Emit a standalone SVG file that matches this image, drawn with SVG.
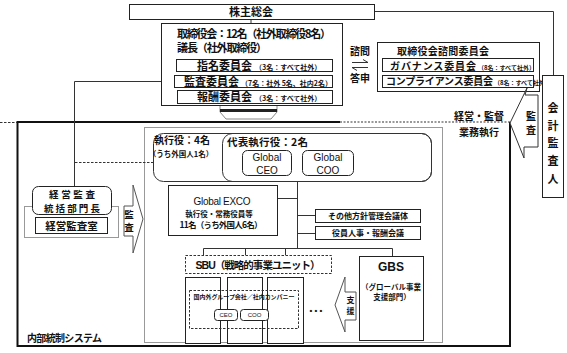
<svg xmlns="http://www.w3.org/2000/svg" width="567" height="353" viewBox="0 0 567 353">
<style>
text{font-family:'Noto Sans CJK JP',sans-serif;font-weight:bold;fill:#111}
.l{font-family:'Liberation Sans','Noto Sans CJK JP',sans-serif}
.n{font-weight:normal}
.c{text-anchor:middle}
.box{fill:#fff;stroke:#222;stroke-width:1}
.gb{fill:none;stroke:#999;stroke-width:1}
.ln{fill:none;stroke:#333;stroke-width:1}
.dash{fill:none;stroke:#333;stroke-width:1;stroke-dasharray:2.5 1.5}
</style>
<rect width="567" height="353" fill="#fff"/>

<!-- panels -->
<g id="exec-panel"><rect x="144.5" y="127.5" width="298" height="215" class="gb" stroke="#aaa"/></g>
<g id="internal-control">
<path d="M340,122 H17.5 V346 H510 V122" fill="none" stroke="#111" stroke-width="2"/>
<path d="M340,122 H510" fill="none" stroke="#333" stroke-width="1.2" stroke-dasharray="2 1.5"/>
<text x="27" y="342" font-size="10" textLength="75">内部統制システム</text>
</g>

<g id="connectors">
<path class="ln" d="M374,11.5 H553.5 V75"/>
<path class="ln" d="M251,19 V23"/>
<path class="ln" d="M174,81.5 H74.5 V186"/>
<path class="dash" d="M75,162.5 H153"/>
<path class="dash" d="M0,122.5 H17"/>
<path class="ln" d="M297.5,181 V248.5"/>
<path class="ln" d="M277,198.5 H297.5"/>
<path class="ln" d="M297.5,215.5 H315"/>
<path class="ln" d="M297.5,233.5 H315"/>
<path class="ln" d="M203.5,248.5 H392.5"/>
<path class="ln" d="M203.5,248.5 V255 M245.5,248.5 V255 M285.5,248.5 V255 M392.5,248.5 V256"/>
</g>

<g id="shareholders">
<rect x="129.5" y="4.5" width="245" height="15" class="box" stroke="#555"/>
<text x="251" y="16" font-size="11" class="c">株主総会</text>
</g>

<g id="board">
<rect x="161.5" y="23.5" width="181" height="82" class="box" stroke="#444"/>
<text x="177" y="37.5" font-size="11" textLength="154">取締役会：12名（社外取締役8名）</text>
<text x="177" y="52" font-size="11" textLength="90">議長（社外取締役）</text>
</g>
<g id="nomination">
<rect x="176.5" y="59.5" width="156" height="12" class="box"/>
<text x="197" y="69.5" font-size="11">指名委員会<tspan font-size="7" dx="3">（3名：すべて社外）</tspan></text>
</g>
<g id="audit-committee">
<rect x="174.5" y="75.5" width="158" height="12" class="box"/>
<text x="184" y="85.5" font-size="11">監査委員会<tspan font-size="7" dx="2">（7名：社外 5名、社内2名）</tspan></text>
</g>
<g id="compensation">
<rect x="177.5" y="90.5" width="155" height="13" class="box"/>
<text x="197" y="101" font-size="11">報酬委員会<tspan font-size="7" dx="3">（3名：すべて社外）</tspan></text>
</g>

<g id="down-arrow">
<path d="M220,106 V112 L226,119 H271 L277,112 V106" fill="#fff" stroke="#888" stroke-width="1"/>
<rect x="220" y="109" width="57" height="3" fill="#222"/>
</g>

<g id="advise">
<text x="360" y="55" font-size="10" class="c">諮問</text>
<path class="ln" d="M352,62.5 H368 L363,59.5 M368,67.5 H352 L357,70.5"/>
<text x="360" y="82" font-size="10" class="c">答申</text>
</g>

<g id="advisory">
<rect x="377.5" y="42.5" width="162" height="49" class="box" stroke="#555"/>
<text x="397" y="54.5" font-size="10" textLength="92">取締役会諮問委員会</text>
</g>
<g id="governance">
<rect x="382.5" y="58.5" width="151" height="13" class="box"/>
<text x="390" y="69.5" font-size="10" textLength="86">ガバナンス委員会</text>
<text x="478" y="69.5" font-size="6">（8名：すべて社外）</text>
</g>
<g id="compliance">
<rect x="382.5" y="75.5" width="151" height="12" class="box"/>
<text x="386" y="85" font-size="10" textLength="107">コンプライアンス委員会</text>
<text x="494" y="85" font-size="6">（8名：すべて社外）</text>
</g>

<g id="auditor">
<rect x="542.5" y="75.5" width="21" height="122" class="box"/>
<text x="553" y="112" font-size="11" class="c">会</text>
<text x="553" y="130" font-size="11" class="c">計</text>
<text x="553" y="147" font-size="11" class="c">監</text>
<text x="553" y="165" font-size="11" class="c">査</text>
<text x="553" y="183" font-size="11" class="c">人</text>
</g>

<g id="audit-right">
<polygon points="538,95 538,147 524,147 524,158 510,123 527,88 525,95" fill="#fff" stroke="#333" stroke-width="1"/>
<text x="531" y="120" font-size="10" class="c">監</text>
<text x="531" y="134" font-size="10" class="c">査</text>
</g>

<g id="supervision-label">
<text x="479" y="120" font-size="10" class="c">経営・監督</text>
<text x="479" y="136" font-size="10" class="c">業務執行</text>
</g>

<g id="executives">
<rect x="153.5" y="133.5" width="278" height="48" rx="10" fill="#fff" stroke="#333"/>
<rect x="222.5" y="133.5" width="209" height="48" rx="10" fill="none" stroke="#333"/>
<text x="182" y="144" font-size="10" class="c">執行役：4名</text>
<text x="181" y="157" font-size="7.5" class="c">（うち外国人1名）</text>
<text x="227" y="146" font-size="10.5" textLength="81">代表執行役：2名</text>
</g>
<g id="global-ceo">
<rect x="242.5" y="150.5" width="49" height="25" rx="5" class="box"/>
<text x="267" y="161" font-size="10" class="c l n">Global</text>
<text x="267" y="174" font-size="10" class="c l n">CEO</text>
</g>
<g id="global-coo">
<rect x="302.5" y="150.5" width="51" height="25" rx="5" class="box"/>
<text x="328" y="161" font-size="10" class="c l n">Global</text>
<text x="328" y="174" font-size="10" class="c l n">COO</text>
</g>

<g id="mgmt-audit">
<rect x="24.5" y="206.5" width="94" height="31" class="gb" stroke="#aaa"/>
<rect x="32.5" y="186.5" width="79" height="28" rx="6" class="box" stroke="#444"/>
<text x="72" y="198" font-size="9.5" class="c" textLength="46">経営監査</text>
<text x="72" y="212" font-size="9.5" class="c" textLength="56">統括部門長</text>
</g>
<g id="mgmt-audit-office">
<rect x="35.5" y="217.5" width="72" height="16" class="box" stroke="#444"/>
<text x="71.5" y="229.5" font-size="10.5" class="c">経営監査室</text>
</g>

<g id="audit-left">
<polygon points="124,206 133,206 133,185 143,219 133,253 133,236 124,236" fill="#fff" stroke="#555" stroke-width="1"/>
<text x="129" y="218" font-size="9.5" class="c">監</text>
<text x="129" y="231" font-size="9.5" class="c">査</text>
</g>

<g id="exco">
<rect x="168.5" y="185.5" width="109" height="50" class="box"/>
<text x="222" y="205" font-size="10" class="c l n" textLength="57">Global EXCO</text>
<text x="219" y="217" font-size="7.5" class="c">執行役・常務役員等</text>
<text x="221" y="228" font-size="8.5" class="c" textLength="83">11名（うち外国人6名）</text>
</g>
<g id="policy-meeting">
<rect x="315.5" y="209.5" width="105" height="13" class="box"/>
<text x="368" y="219" font-size="8" class="c">その他方針管理会議体</text>
</g>
<g id="personnel-meeting">
<rect x="315.5" y="226.5" width="105" height="13" class="box"/>
<text x="368" y="236" font-size="8" class="c">役員人事・報酬会議</text>
</g>

<g id="sbu">
<rect x="185.5" y="255.5" width="146" height="18" fill="#fff" class="dash"/>
<text x="258" y="269" font-size="10.5" class="c" textLength="125"><tspan class="l">SBU</tspan>（戦略的事業ユニット）</text>
</g>
<g id="group-companies">
<rect x="185.5" y="277.5" width="35" height="66" class="box" stroke="#555"/>
<rect x="227.5" y="277.5" width="35" height="66" class="box" stroke="#555"/>
<rect x="267.5" y="277.5" width="36" height="66" class="box" stroke="#555"/>
<rect x="189.5" y="290.5" width="109" height="38" fill="#fff" class="dash" stroke="#555"/>
<text x="244" y="299" font-size="6" class="c" textLength="101">国内外グループ会社／社内カンパニー</text>
<rect x="214.5" y="309.5" width="23" height="11" rx="3" class="box" stroke="#666"/>
<text x="226" y="317" font-size="6" class="c l n">CEO</text>
<rect x="240.5" y="309.5" width="28" height="11" rx="3" class="box" stroke="#666"/>
<text x="254.5" y="317" font-size="6" class="c l n">COO</text>
</g>
<g id="more"><text x="316" y="313" font-size="8" class="c l">• • •</text></g>

<g id="support">
<polygon points="356,292 356,320 345,320 345,332 335,305 345,277 345,292" fill="#fff" stroke="#555" stroke-width="1"/>
<text x="350.5" y="303" font-size="8" class="c">支</text>
<text x="350.5" y="314" font-size="8" class="c">援</text>
</g>
<g id="gbs">
<rect x="359.5" y="256.5" width="64" height="84" class="box" stroke="#444"/>
<text x="391" y="271" font-size="12" class="c l">GBS</text>
<text x="391" y="290" font-size="7.5" class="c">（グローバル事業</text>
<text x="392" y="299.5" font-size="7.5" class="c">支援部門）</text>
</g>
</svg>
